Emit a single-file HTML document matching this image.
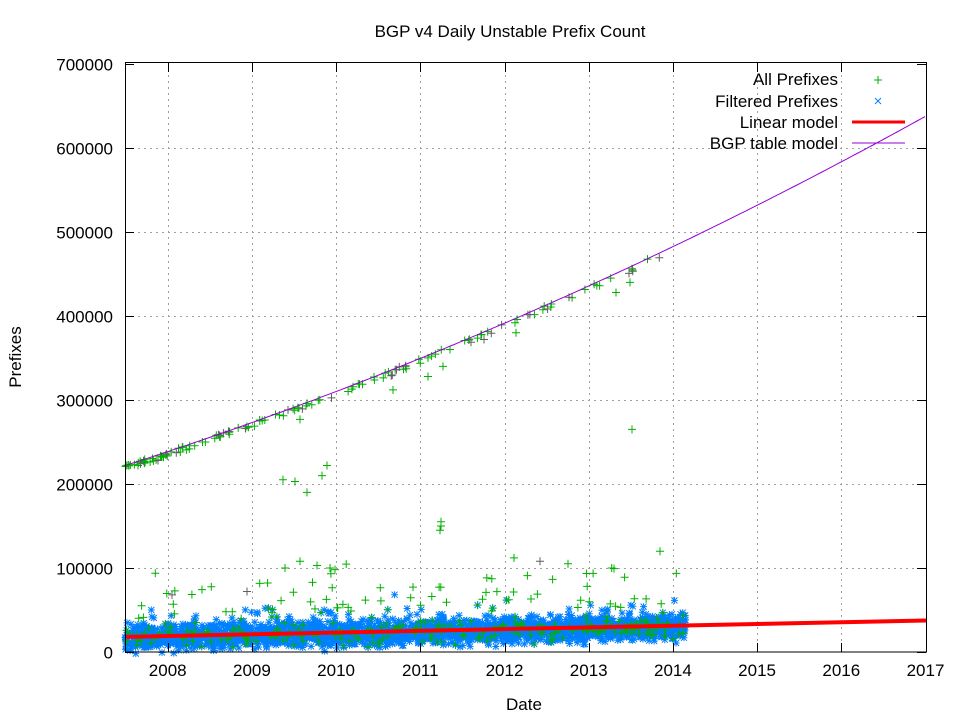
<!DOCTYPE html>
<html><head><meta charset="utf-8"><style>
html,body{margin:0;padding:0;background:#fff;}
svg{display:block;font-family:"Liberation Sans",sans-serif;}
</style></head><body>
<svg id="s" width="960" height="720" viewBox="0 0 960 720" xmlns="http://www.w3.org/2000/svg">
<rect width="960" height="720" fill="#fff"/>
<g id="grid" stroke="#a0a0a0" stroke-width="1" stroke-dasharray="2,4"></g>
<g id="data"></g>
<rect x="125.5" y="62.5" width="801" height="589.5" fill="none" stroke="#000" stroke-width="1"/>
<g id="ticks" stroke="#000" stroke-width="1"></g>
<g id="labels" font-size="17" fill="#000"></g>
<text x="510" y="37" font-size="17" text-anchor="middle">BGP v4 Daily Unstable Prefix Count</text>
<text x="524" y="710" font-size="17" text-anchor="middle">Date</text>
<text transform="translate(21,357) rotate(-90)" font-size="17" text-anchor="middle">Prefixes</text>
<g font-size="17" text-anchor="end">
<text x="838" y="85">All Prefixes</text>
<text x="838" y="107">Filtered Prefixes</text>
<text x="838" y="128">Linear model</text>
<text x="838" y="149">BGP table model</text>
</g>
<path d="M874 80h8M878 76v8" stroke="#00b000" stroke-width="1"/>
<path d="M875 98l6 6M881 98l-6 6" stroke="#0080ff" stroke-width="1"/>
<line x1="852" y1="122" x2="905" y2="122" stroke="#f00" stroke-width="3"/>
<line x1="852" y1="143" x2="905" y2="143" stroke="#9400d3" stroke-width="1"/>
</svg>
<script>
var NS="http://www.w3.org/2000/svg";
function el(p,t,a){var e=document.createElementNS(NS,t);for(var k in a)e.setAttribute(k,a[k]);p.appendChild(e);return e;}
var X=function(yr){return 167.7+(yr-2008)*84.2;};
var Y=function(v){return 652-v*84/100000;};
var grid=document.getElementById('grid'),ticks=document.getElementById('ticks'),lab=document.getElementById('labels');
for(var y=2008;y<=2017;y++){var x=Math.round(X(y))+0.5;if(y<2017)el(grid,'line',{x1:x,y1:63,x2:x,y2:652});
el(ticks,'line',{x1:x,y1:652,x2:x,y2:643});el(ticks,'line',{x1:x,y1:63,x2:x,y2:72});
var t=el(lab,'text',{x:X(y),y:676,'text-anchor':'middle'});t.textContent=y;}
for(var v=0;v<=700000;v+=100000){var yy=Math.round(Y(v))+0.5;if(v>0&&v<700000)el(grid,'line',{x1:126,y1:yy,x2:926,y2:yy});
el(ticks,'line',{x1:125,y1:yy,x2:134,y2:yy});el(ticks,'line',{x1:926,y1:yy,x2:917,y2:yy});
var t=el(lab,'text',{x:113,y:yy+6,'text-anchor':'end'});t.textContent=v;}
var seed=12345;function r(){seed=(seed*1103515245+12345)%2147483648;return seed/2147483648;}
function bgp(x){var t=(x-125)/801;return 222000+305000*t+111000*t*t;}
var d=document.getElementById('data');var pb="",pg="",pk="";
function star(x,y){return "M"+(x-3.5)+" "+y+"h7M"+x+" "+(y-3.5)+"v7M"+(x-3)+" "+(y-3)+"l6 6M"+(x+3)+" "+(y-3)+"l-6 6";}
function plus(x,y){return "M"+(x-4)+" "+y+"h8M"+x+" "+(y-4)+"v8";}
var x0=125,x1=X(2014.15);
for(var i=0;i<4500;i++){var x=x0+r()*(x1-x0);var base=17000+(x-125)*24;var v=base+(r()+r()+r()-1.5)*15000;
if(r()<0.04)v+=r()*25000;var xx=+x.toFixed(1),yy=+Y(v).toFixed(1);pb+=star(xx,yy);if(r()<0.08)pg+=plus(xx,yy);}
for(var i=0;i<70;i++){var x=x0+r()*(x1-x0);var v=35000+(x-125)*30+r()*45000;if(r()<0.2)v+=r()*25000;pg+=plus(+x.toFixed(1),+Y(v).toFixed(1));}
for(var i=0;i<110;i++){var x=x0+Math.pow(r(),1.4)*(x1-x0-30);var v=bgp(x)-r()*6000;pg+=plus(+x.toFixed(1),+Y(v).toFixed(1));}
[[283,205000],[295,203000],[307,190000],[300,277000],[327,222000],[322,210000],[441,155000],[441,150000],[440,145000],[632,265000],[630,440000],[616,428000],[516,380000],[515,392000],[393,312000],[428,328000],[443,340000],[660,120000],[568,105000],[514,112000],[285,100000],[300,108000],[317,103000],[330,100000],[335,98000]].forEach(function(p){pg+=plus(p[0],Y(p[1]));});
for(var i=0;i<25;i++){var x=x0+r()*(x1-x0-20);var v=bgp(x)-r()*8000;pk+=plus(+x.toFixed(1),+Y(v).toFixed(1));}
[[172,68000],[158,228000],[484,372000],[540,108000],[247,72000]].forEach(function(p){pk+=plus(p[0],Y(p[1]));});
el(d,'path',{d:pb,stroke:'#0080ff','stroke-width':1,fill:'none'});
el(d,'path',{d:pg,stroke:'#00b000','stroke-width':1,fill:'none'});
el(d,'path',{d:pk,stroke:'#606060','stroke-width':1,fill:'none'});
el(d,'line',{x1:126,y1:Y(18000),x2:926,y2:Y(37500),stroke:'#f00','stroke-width':4});
var pts=[];for(var x=125;x<=926;x+=4){pts.push(x+","+Y(bgp(x)).toFixed(1));}
el(d,'polyline',{points:pts.join(" "),fill:'none',stroke:'#9400d3','stroke-width':1});
</script>
</body></html>
